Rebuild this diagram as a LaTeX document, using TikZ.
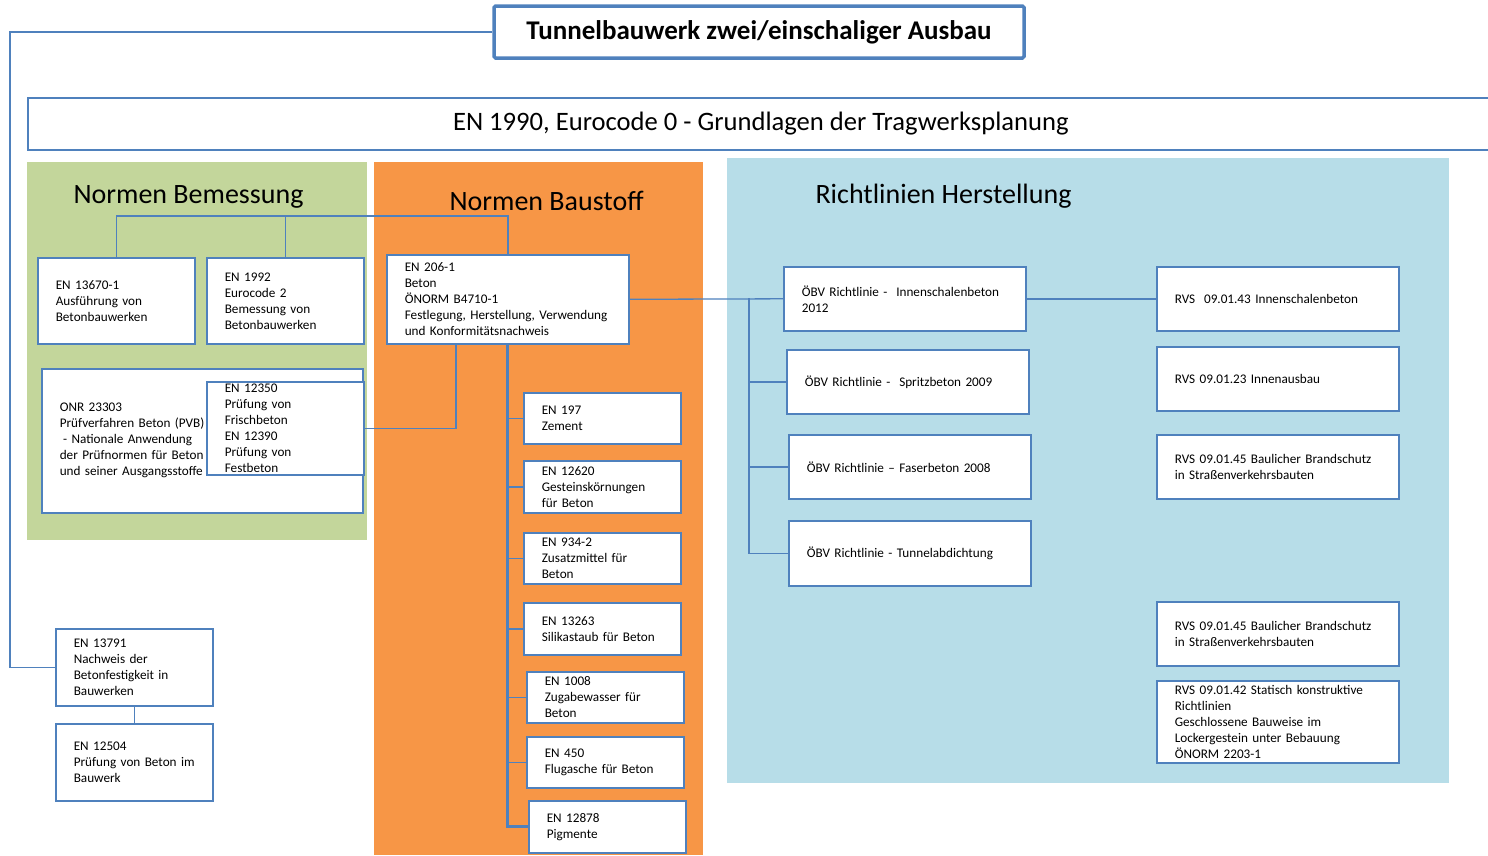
\documentclass[tikz,border=0pt]{standalone}
\usepackage{fontspec}
\setmainfont{Carlito}
\usepackage{xcolor}
\usepackage{tikz}

\definecolor{lineblue}{RGB}{79,129,189}
\definecolor{bemgreen}{RGB}{195,214,155}
\definecolor{baustorange}{RGB}{247,150,70}
\definecolor{herstblue}{RGB}{183,221,232}
\newcommand{\normtext}{\fontsize{13.2}{16}\selectfont}

\begin{document}
\begin{tikzpicture}[x=1pt, y=-1pt,
    nbox/.style={draw=lineblue, line width=1.6pt, fill=white, anchor=north west,
        align=left, inner xsep=18pt, inner ysep=1pt, font=\normtext},
    nboxS/.style={nbox, text width=121pt},
    nboxL/.style={nbox, text width=206pt},
    conn/.style={draw=lineblue, line width=1.6pt},
    heading/.style={anchor=base west, font=\fontsize{28}{33}\selectfont}]
        \useasboundingbox (0,0) rectangle (1488,855);

        % bereiche
        \fill[bemgreen] (27,162) rectangle (367,540);
        \fill[baustorange] (374,162) rectangle (703,855);
        \fill[herstblue] (727,158) rectangle (1449,783);

        \node[draw=lineblue, line width=3.5pt, rounded corners=1.5pt, fill=white,
            minimum width=530, minimum height=52,
            font=\bfseries\fontsize{27}{32}\selectfont] (title) at (759,32)
            {Tunnelbauwerk zwei/einschaliger Ausbau};
        \node[draw=lineblue, line width=1.6pt, fill=white, anchor=north west,
            minimum width=1466, minimum height=52,
            font=\fontsize{26.6}{31}\selectfont] (eurocode) at (27,97)
            {EN 1990, Eurocode 0 - Grundlagen der Tragwerksplanung};

        \node[heading] (bemessung) at (70,203) {Normen Bemessung};
        \node[heading] (baustoff) at (446,210) {Normen Baustoff};
        \node[heading] (herstellung) at (812,203) {Richtlinien Herstellung};

        % normen bemessung
        \node[nboxS, minimum height=86] (en13670) at (37,257)
            {EN 13670-1\\Ausführung von\\Betonbauwerken};
        \node[nboxS, minimum height=86] (en1992) at (206,257)
            {EN 1992\\Eurocode 2\\Bemessung von\\Betonbauwerken};
        \node[nbox, text width=285pt, minimum height=144] (onr) at (41,368)
            {ONR 23303\\Prüfverfahren Beton (PVB)\\\hspace*{.25em}- Nationale Anwendung\\der Prüfnormen für Beton\\und seiner Ausgangsstoffe};
        \node[nboxS, inner ysep=0pt, minimum height=93] (en12350) at (206,381)
            {EN 12350\\Prüfung von\\Frischbeton\\EN 12390\\Prüfung von\\Festbeton};

        % normen baustoff
        \node[nboxL, minimum height=89] (en206) at (386,254)
            {EN 206-1\\Beton\\ÖNORM B4710-1\\Festlegung, Herstellung, Verwendung\\und Konformitätsnachweis};
        \node[nboxS, minimum height=51] (en197) at (523,392) {EN 197\\Zement};
        \node[nboxS, minimum height=52] (en12620) at (523,460)
            {EN 12620\\Gesteinskörnungen\\für Beton};
        \node[nboxS, minimum height=51] (en934) at (523,532)
            {EN 934-2\\Zusatzmittel für\\Beton};
        \node[nboxS, minimum height=52] (en13263) at (523,602)
            {EN 13263\\Silikastaub für Beton};
        \node[nboxS, minimum height=51] (en1008) at (526,671)
            {EN 1008\\Zugabewasser für\\Beton};
        \node[nboxS, minimum height=51] (en450) at (526,736)
            {EN 450\\Flugasche für Beton};
        \node[nboxS, minimum height=52] (en12878) at (528,800)
            {EN 12878\\Pigmente};

        % richtlinien herstellung
        \node[nboxL, minimum height=64] (oebvIS) at (783,266)
            {ÖBV Richtlinie -~~Innenschalenbeton\\2012};
        \node[nboxL, minimum height=64] (oebvSB) at (786,349)
            {ÖBV Richtlinie -~~Spritzbeton 2009};
        \node[nboxL, minimum height=64] (oebvFB) at (788,434)
            {ÖBV Richtlinie -- Faserbeton 2008};
        \node[nboxL, minimum height=65] (oebvTA) at (788,520)
            {ÖBV Richtlinie - Tunnelabdichtung};
        \node[nboxL, minimum height=64] (rvsIS) at (1156,266)
            {RVS~~09.01.43 Innenschalenbeton};
        \node[nboxL, minimum height=64] (rvsIA) at (1156,346)
            {RVS 09.01.23 Innenausbau};
        \node[nboxL, minimum height=64] (rvsBS) at (1156,434)
            {RVS 09.01.45 Baulicher Brandschutz\\in Straßenverkehrsbauten};
        \node[nboxL, minimum height=64] (rvsBSb) at (1156,601)
            {RVS 09.01.45 Baulicher Brandschutz\\in Straßenverkehrsbauten};
        \node[nboxL, inner ysep=0pt, minimum height=82] (rvsSK) at (1156,680)
            {RVS 09.01.42 Statisch konstruktive\\Richtlinien\\Geschlossene Bauweise im\\Lockergestein unter Bebauung\\ÖNORM 2203-1};

        % pruefung im bauwerk
        \node[nboxS, minimum height=77] (en13791) at (55,628)
            {EN 13791\\Nachweis der\\Betonfestigkeit in\\Bauwerken};
        \node[nboxS, minimum height=77] (en12504) at (55,723)
            {EN 12504\\Prüfung von Beton im\\Bauwerk};

        % verbindungen
        \coordinate (frameTL) at (10,32);
        \coordinate (busB) at (116,216);
        \coordinate (busR) at (749,298);
        \draw[conn] (title.west) -- (frameTL) |- (en13791.west);
        \draw[conn] (en13791.south) -- (en12504.north);
        \draw[conn] (en13670.north) -- (en13670.north |- busB) -| (en206.north);
        \draw[conn] (en1992.north) -- (en1992.north |- busB);
        \draw[conn] (en206.south west) ++(70,0) |- (en12350.east);
        \draw[conn, line width=3pt] (en206.south) |- (en12878.west);
        \foreach \n in {en197,en12620,en934,en13263,en1008,en450}
            \draw[conn] (en206.south |- \n.west) -- (\n.west);
        \draw[conn, line width=1.3pt] (en206.east) -- (oebvIS.west);
        \draw[conn] (busR) |- (oebvTA.west);
        \foreach \n in {oebvSB,oebvFB}
            \draw[conn] (busR |- \n.west) -- (\n.west);
        \draw[conn] (oebvIS.east) -- (rvsIS.west);
    \end{tikzpicture}
\end{document}
